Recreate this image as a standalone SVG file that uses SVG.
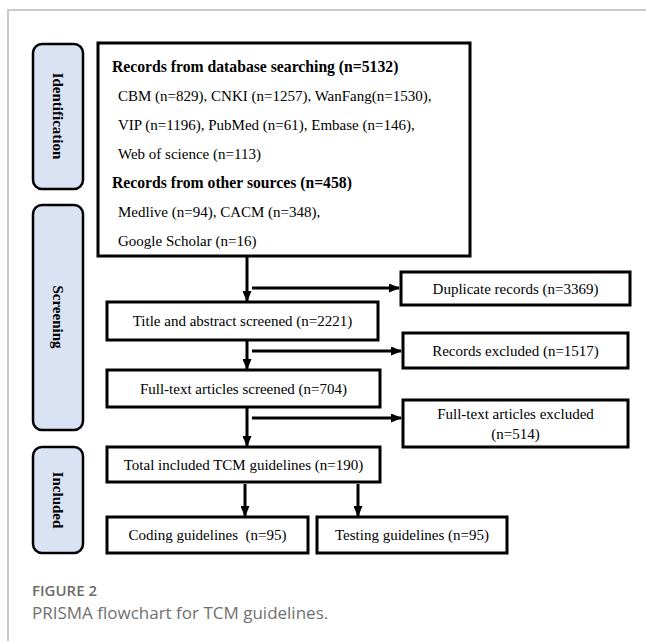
<svg xmlns="http://www.w3.org/2000/svg" width="646" height="641" viewBox="0 0 646 641">
  <style>
    .frame { stroke: #c9c9c9; stroke-width: 2; fill: none; }
    .phase { fill: #dae3f3; stroke: #000; stroke-width: 2.5; }
    .phase-label { font-family: "Liberation Serif", "Times New Roman", serif; font-size: 15px; font-weight: bold; fill: #000; text-anchor: middle; dominant-baseline: central; }
    .box { fill: #fff; stroke: #000; stroke-width: 3; }
    .txt { font-family: "Liberation Serif", "Times New Roman", serif; font-size: 15px; fill: #000; }
    .mid { text-anchor: middle; }
    .bold { font-weight: bold; font-size: 15.7px; }
    .conn { stroke: #000; stroke-width: 3; fill: none; }
    .cap-head { font-family: "Open Sans", "Noto Sans", sans-serif; font-size: 15px; font-weight: 600; fill: #6b6b6b; }
    .cap-text { font-family: "Open Sans", "Noto Sans", sans-serif; font-size: 17px; fill: #707070; }
  </style>
  <defs>
    <marker id="arrow" markerUnits="userSpaceOnUse" markerWidth="11" markerHeight="9" refX="10" refY="4.5" orient="auto">
      <path d="M0,0 L11,4.5 L0,9 z" fill="#000"/>
    </marker>
  </defs>

  <rect width="646" height="641" fill="#fff"/>
  <!-- page frame -->
  <path class="frame" d="M8,641 V10 H646"/>

  <!-- phase labels -->
  <g id="phase-identification">
    <rect class="phase" x="33" y="44" width="50" height="145" rx="9"/>
    <text class="phase-label" transform="translate(58,116) rotate(90)">Identification</text>
  </g>
  <g id="phase-screening">
    <rect class="phase" x="33" y="205" width="50" height="225" rx="9"/>
    <text class="phase-label" transform="translate(58,317) rotate(90)">Screening</text>
  </g>
  <g id="phase-included">
    <rect class="phase" x="33" y="447" width="50" height="106" rx="9"/>
    <text class="phase-label" transform="translate(58,500) rotate(90)">Included</text>
  </g>

  <!-- records identified -->
  <g id="records">
    <rect class="box" x="98" y="43" width="372" height="213"/>
    <text class="txt bold" x="112" y="72">Records from database searching (n=5132)</text>
    <text class="txt" x="118" y="101">CBM (n=829), CNKI (n=1257), WanFang(n=1530),</text>
    <text class="txt" x="118" y="130">VIP (n=1196), PubMed (n=61), Embase (n=146),</text>
    <text class="txt" x="118" y="159">Web of science (n=113)</text>
    <text class="txt bold" x="112" y="188">Records from other sources (n=458)</text>
    <text class="txt" x="118" y="217">Medlive (n=94), CACM (n=348),</text>
    <text class="txt" x="118" y="246">Google Scholar (n=16)</text>
  </g>

  <g id="duplicates">
    <rect class="box" x="401" y="272" width="229" height="33"/>
    <text class="txt mid" x="515.5" y="294">Duplicate records (n=3369)</text>
  </g>

  <g id="title-abstract">
    <rect class="box" x="107" y="302" width="271" height="38"/>
    <text class="txt mid" x="242.5" y="326">Title and abstract screened (n=2221)</text>
  </g>

  <g id="records-excluded">
    <rect class="box" x="403" y="333" width="225" height="35"/>
    <text class="txt mid" x="515.5" y="356">Records excluded (n=1517)</text>
  </g>

  <g id="fulltext-screened">
    <rect class="box" x="107" y="370" width="273" height="37"/>
    <text class="txt mid" x="243.5" y="394">Full-text articles screened (n=704)</text>
  </g>

  <g id="fulltext-excluded">
    <rect class="box" x="403" y="400" width="225" height="47"/>
    <text class="txt mid" x="515.5" y="419">Full-text articles excluded</text>
    <text class="txt mid" x="515.5" y="439">(n=514)</text>
  </g>

  <g id="included">
    <rect class="box" x="107" y="447" width="273" height="35"/>
    <text class="txt mid" x="243.5" y="470">Total included TCM guidelines (n=190)</text>
  </g>

  <g id="coding">
    <rect class="box" x="107" y="517" width="201" height="36"/>
    <text class="txt mid" x="207.5" y="540">Coding guidelines &#160;(n=95)</text>
  </g>

  <g id="testing">
    <rect class="box" x="317" y="517" width="190" height="36"/>
    <text class="txt mid" x="412" y="540">Testing guidelines (n=95)</text>
  </g>

  <!-- connectors -->
  <g id="connectors">
    <line class="conn" x1="247" y1="257" x2="247" y2="301" marker-end="url(#arrow)"/>
    <line class="conn" x1="252" y1="288" x2="399" y2="288" marker-end="url(#arrow)"/>
    <line class="conn" x1="247" y1="341" x2="247" y2="369" marker-end="url(#arrow)"/>
    <line class="conn" x1="252" y1="351" x2="401" y2="351" marker-end="url(#arrow)"/>
    <line class="conn" x1="247" y1="408" x2="247" y2="446" marker-end="url(#arrow)"/>
    <line class="conn" x1="252" y1="418" x2="401" y2="418" marker-end="url(#arrow)"/>
    <line class="conn" x1="245" y1="484" x2="245" y2="516" marker-end="url(#arrow)"/>
    <line class="conn" x1="358" y1="484" x2="358" y2="516" marker-end="url(#arrow)"/>
  </g>

  <!-- caption -->
  <text class="cap-head" x="32" y="596">FIGURE 2</text>
  <text class="cap-text" x="32" y="619">PRISMA flowchart for TCM guidelines.</text>
</svg>
